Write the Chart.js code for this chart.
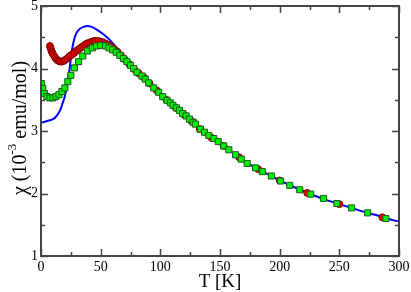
<!DOCTYPE html>
<html>
<head>
<meta charset="utf-8">
<script src="https://cdn.jsdelivr.net/npm/chart.js@4/dist/chart.umd.min.js"></script>
<style>
html,body{margin:0;padding:0;background:#fff;}
canvas{display:block;}
</style>
</head>
<body>
<canvas id="c" width="411" height="292"></canvas>
<script>
// ---- data ----
const xTicks = [0, 50, 100, 150, 200, 250, 300];
const yTicks = [1, 2, 3, 4, 5];

const lineT = [0, 5, 10, 13, 16, 18, 20, 22, 24, 26, 28, 30, 33, 36, 39, 42, 46, 50, 54, 58, 62, 66, 70, 75, 80, 85, 90, 95, 100, 110, 120, 130, 140, 150, 160, 170, 180, 190, 200, 210, 220, 230, 240, 250, 260, 270, 280, 290, 300];
const lineChi = [3.13, 3.16, 3.19, 3.24, 3.33, 3.44, 3.56, 3.75, 4.00, 4.30, 4.48, 4.58, 4.64, 4.67, 4.68, 4.67, 4.63, 4.58, 4.52, 4.45, 4.36, 4.26, 4.16, 4.06, 3.96, 3.87, 3.78, 3.68, 3.58, 3.42, 3.26, 3.10, 2.94, 2.80, 2.66, 2.52, 2.41, 2.31, 2.21, 2.12, 2.04, 1.96, 1.89, 1.83, 1.77, 1.71, 1.66, 1.60, 1.55];

const redT = [7.5, 8, 8.5, 9, 9.5, 10, 11, 12, 13, 14, 15, 16, 17.5, 19, 20.5, 22, 23.5, 25, 26.5, 28, 29.5, 31, 32.5, 34, 35.5, 37, 38.5, 40, 41.5, 43, 44.5, 46, 48, 50, 52, 54, 56, 58, 60, 62, 64, 67, 70, 74, 78, 82, 86, 91, 97, 105, 113, 120, 126, 133, 143, 153, 166, 182, 200, 223, 250, 286];
const redChi = [4.36, 4.33, 4.30, 4.27, 4.25, 4.23, 4.20, 4.17, 4.15, 4.13, 4.12, 4.11, 4.11, 4.12, 4.14, 4.16, 4.19, 4.21, 4.23, 4.25, 4.28, 4.30, 4.32, 4.34, 4.36, 4.38, 4.40, 4.41, 4.42, 4.43, 4.44, 4.44, 4.44, 4.43, 4.42, 4.40, 4.38, 4.36, 4.33, 4.30, 4.27, 4.21, 4.15, 4.07, 3.99, 3.92, 3.86, 3.76, 3.65, 3.50, 3.37, 3.26, 3.16, 3.03, 2.89, 2.76, 2.58, 2.39, 2.21, 2.01, 1.83, 1.62];

const greenT = [0.5, 1.5, 3, 5, 7.5, 10, 12.5, 15, 17.5, 20, 22.5, 25, 28, 31.5, 35, 39, 43, 46.5, 50, 54, 57, 60, 63, 66, 69, 72, 75, 77.6, 80.4, 84.6, 87.4, 90.2, 94.4, 98.6, 102, 105.6, 108.4, 110.6, 113.4, 116, 118.7, 121.6, 124.4, 127.5, 129.4, 133.6, 137, 140.6, 144.8, 148.5, 153.2, 157.4, 163, 167.8, 172.8, 179.8, 185.5, 193, 200.8, 208.4, 216.8, 226, 236.7, 247.9, 260.3, 273.7, 289];
const greenChi = [3.76, 3.68, 3.60, 3.55, 3.53, 3.53, 3.55, 3.58, 3.63, 3.69, 3.79, 3.89, 4.01, 4.11, 4.20, 4.28, 4.33, 4.36, 4.37, 4.36, 4.33, 4.30, 4.26, 4.21, 4.16, 4.11, 4.05, 4.00, 3.94, 3.88, 3.83, 3.77, 3.69, 3.62, 3.55, 3.49, 3.45, 3.41, 3.37, 3.33, 3.28, 3.24, 3.19, 3.14, 3.11, 3.03, 2.98, 2.93, 2.88, 2.83, 2.76, 2.70, 2.62, 2.55, 2.48, 2.41, 2.35, 2.28, 2.20, 2.13, 2.06, 1.99, 1.92, 1.84, 1.77, 1.69, 1.60];

const xTitle = 'T [K]';
const yTitleParts = ['\u03c7 (10', '-3', ' emu/mol)'];

const pts = (xs, ys) => xs.map((x, i) => ({x: x, y: ys[i]}));

const FONT = "'Liberation Serif', 'Times New Roman', serif";
const FRAME = '#444';

const framePlugin = {
  id: 'frameTicks',
  afterDraw(chart) {
    const ctx = chart.ctx;
    const a = chart.chartArea;
    const xs = chart.scales.x, ys = chart.scales.y;
    ctx.save();
    ctx.strokeStyle = FRAME;
    ctx.lineWidth = 1.5;
    const xMin = [];
    for (let i = 0; i < xTicks.length - 1; i++) xMin.push((xTicks[i] + xTicks[i + 1]) / 2);
    const yMin = [];
    for (let i = 0; i < yTicks.length - 1; i++) yMin.push((yTicks[i] + yTicks[i + 1]) / 2);
    ctx.beginPath();
    xTicks.forEach(v => { const p = Math.round(xs.getPixelForValue(v)) + 0.5;
      ctx.moveTo(p, a.bottom); ctx.lineTo(p, a.bottom - 7);
      ctx.moveTo(p, a.top); ctx.lineTo(p, a.top + 7); });
    xMin.forEach(v => { const p = Math.round(xs.getPixelForValue(v)) + 0.5;
      ctx.moveTo(p, a.bottom); ctx.lineTo(p, a.bottom - 4);
      ctx.moveTo(p, a.top); ctx.lineTo(p, a.top + 4); });
    yTicks.forEach(v => { const p = Math.round(ys.getPixelForValue(v)) + 0.5;
      ctx.moveTo(a.left, p); ctx.lineTo(a.left + 7, p);
      ctx.moveTo(a.right, p); ctx.lineTo(a.right - 7, p); });
    yMin.forEach(v => { const p = Math.round(ys.getPixelForValue(v)) + 0.5;
      ctx.moveTo(a.left, p); ctx.lineTo(a.left + 4, p);
      ctx.moveTo(a.right, p); ctx.lineTo(a.right - 4, p); });
    ctx.stroke();
    ctx.lineWidth = 2;
    ctx.strokeStyle = FRAME;
    ctx.strokeRect(a.left, a.top, a.right - a.left, a.bottom - a.top);
    // x title
    ctx.fillStyle = '#000';
    ctx.font = '19px ' + FONT;
    ctx.textAlign = 'center';
    ctx.textBaseline = 'alphabetic';
    ctx.fillText(xTitle, (a.left + a.right) / 2, 287);
    // y title with superscript
    ctx.translate(26, 128);
    ctx.rotate(-Math.PI / 2);
    ctx.textAlign = 'left';
    const big = '20px ' + FONT, small = '13px ' + FONT;
    ctx.font = big; const w1 = ctx.measureText(yTitleParts[0]).width;
    ctx.font = small; const w2 = ctx.measureText(yTitleParts[1]).width;
    ctx.font = big; const w3 = ctx.measureText(yTitleParts[2]).width;
    const x0 = -(w1 + w2 + w3) / 2;
    ctx.font = big; ctx.fillText(yTitleParts[0], x0, 0);
    ctx.font = small; ctx.fillText(yTitleParts[1], x0 + w1, -10);
    ctx.font = big; ctx.fillText(yTitleParts[2], x0 + w1 + w2, 0);
    ctx.restore();
  }
};

new Chart(document.getElementById('c'), {
  type: 'scatter',
  data: {
    datasets: [
      {
        label: 'green',
        data: pts(greenT, greenChi),
        pointStyle: 'rect',
        pointRadius: 4.3,
        backgroundColor: '#00ee00',
        borderColor: '#1e5a1e',
        borderWidth: 1,
        showLine: false,
        order: 0
      },
      {
        label: 'red',
        data: pts(redT, redChi),
        pointStyle: 'circle',
        pointRadius: 3.4,
        backgroundColor: '#ff0000',
        borderColor: '#7a0000',
        borderWidth: 1,
        showLine: false,
        order: 1
      },
      {
        label: 'line',
        data: pts(lineT, lineChi),
        showLine: true,
        borderColor: '#0000ff',
        borderWidth: 2,
        pointRadius: 0,
        cubicInterpolationMode: 'monotone',
        fill: false,
        order: 2
      }
    ]
  },
  options: {
    responsive: false,
    animation: false,
    devicePixelRatio: 1,
    layout: {padding: {top: 6, right: 12, left: 0, bottom: 0}},
    plugins: {legend: {display: false}, tooltip: {enabled: false}},
    scales: {
      x: {
        type: 'linear', min: 0, max: 300,
        grid: {display: false, drawTicks: false},
        border: {display: false},
        ticks: {stepSize: 50, padding: 3, maxRotation: 0, autoSkip: false, color: '#000',
                font: {family: FONT, size: 14}},
        afterFit(s) { s.height = 36; s.paddingLeft = 0; s.paddingRight = 0; }
      },
      y: {
        type: 'linear', min: 1, max: 5,
        grid: {display: false, drawTicks: false},
        border: {display: false},
        ticks: {stepSize: 1, padding: 3, color: '#000',
                font: {family: FONT, size: 14}},
        afterFit(s) { s.width = 41; s.paddingTop = 0; s.paddingBottom = 0; }
      }
    }
  },
  plugins: [framePlugin]
});
</script>
</body>
</html>
